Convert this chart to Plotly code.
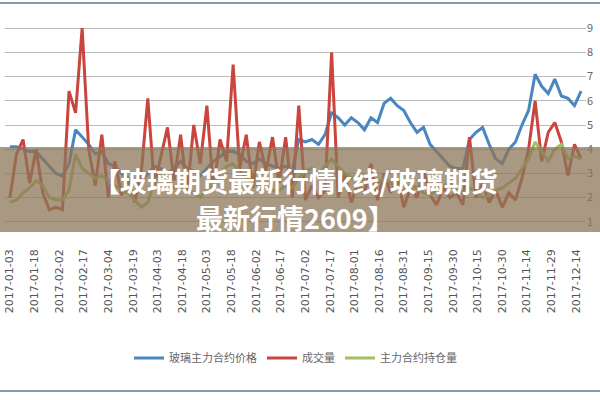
import plotly.graph_objects as go
import pandas as pd

dates = pd.date_range("2017-01-03", periods=88, freq="4D")
price = [4.1,4.1,4.0,3.9,3.9,3.6,3.3,3.0,2.9,3.4,4.8,4.5,4.2,3.8,3.9,3.4,3.3,3.0,2.8,2.6,2.7,3.0,3.3,3.2,3.0,3.2,3.5,3.2,3.1,2.9,3.2,3.5,3.7,3.9,3.9,3.8,3.5,3.4,3.6,3.4,3.3,3.2,3.3,3.1,4.4,4.3,4.4,4.2,4.6,5.5,5.3,5.0,5.3,5.1,4.8,5.3,5.1,5.9,6.1,5.8,5.6,5.1,4.7,4.9,4.2,3.9,3.6,3.3,3.2,3.2,4.4,4.7,4.9,4.2,3.6,3.4,4.0,4.3,5.0,5.6,7.1,6.6,6.3,6.9,6.2,6.1,5.8,6.4]
volume = [2.0,3.8,4.4,2.6,4.0,2.2,1.5,1.6,1.5,6.4,5.5,9.0,4.0,2.5,4.6,2.0,3.5,2.1,2.8,1.8,3.0,6.1,2.5,3.7,4.9,2.7,4.6,2.2,5.0,3.4,5.8,2.3,4.4,3.5,7.5,3.2,4.6,2.4,4.3,3.1,4.5,2.6,4.5,2.0,5.8,1.9,2.5,2.0,2.3,8.0,2.0,3.0,1.8,2.6,2.2,3.4,1.9,3.0,2.2,2.8,1.6,2.4,2.0,3.1,2.1,1.7,2.4,2.0,2.2,1.7,4.5,2.0,2.6,1.8,2.3,1.6,2.2,1.9,2.8,4.0,6.0,3.5,4.7,5.1,4.3,2.9,4.2,3.6]
oi = [1.8,1.9,2.2,2.4,2.7,2.5,2.0,1.9,1.9,2.3,3.8,3.2,3.0,2.8,2.9,2.7,2.5,2.3,2.2,1.9,1.6,1.8,2.7,2.9,2.6,2.4,2.5,2.3,2.2,2.0,2.3,2.6,3.0,3.3,3.4,3.1,2.8,2.6,2.5,2.4,2.3,2.3,2.5,2.4,2.8,3.1,3.2,3.0,3.3,3.6,3.3,3.0,2.8,2.9,2.7,2.5,2.6,2.8,2.6,2.4,2.3,2.5,2.4,2.2,2.1,2.3,2.5,2.6,2.4,2.2,2.4,2.2,2.0,2.1,2.3,2.4,2.6,2.8,3.2,3.6,4.3,3.9,3.5,4.0,4.2,3.6,3.7,3.6]
tick_dates = pd.date_range("2017-01-03", periods=24, freq="15D")
tick_text = [d.strftime("%Y-%m-%d") for d in tick_dates]
y_ticks = [1,2,3,4,5,6,7,8,9]

def py(ypx):
    return (246 - ypx) / 242

fig = go.Figure()
fig.add_trace(go.Scatter(x=dates, y=price, name="玻璃主力合约价格", mode="lines", line=dict(color="#4a86c0", width=3)))
fig.add_trace(go.Scatter(x=dates, y=volume, name="成交量", mode="lines", line=dict(color="#c9453e", width=3)))
fig.add_trace(go.Scatter(x=dates, y=oi, name="主力合约持仓量", mode="lines", line=dict(color="#a5be63", width=3)))

fig.update_layout(
    width=600, height=400, paper_bgcolor="white", plot_bgcolor="white",
    margin=dict(l=5, r=14, t=4, b=154, autoexpand=False),
    font=dict(family="Noto Sans CJK SC", color="#555"),
    showlegend=True,
    legend=dict(orientation="h", x=0.5, xanchor="center", y=py(358), yanchor="middle",
                font=dict(size=11, color="#666")),
    xaxis=dict(range=["2016-12-31", "2017-12-20"], tickvals=list(tick_dates), ticktext=tick_text,
               tickangle=-90, tickfont=dict(size=11, color="#555", family="DejaVu Sans"),
               showgrid=False, ticks="", showline=False, automargin=False),
    yaxis=dict(range=[0, 10], side="right", tickvals=y_ticks, showgrid=True, gridcolor="#bbb",
               gridwidth=1, tickfont=dict(size=11, color="#666"), zeroline=False, automargin=False),
    shapes=[
        dict(type="rect", xref="paper", yref="paper", x0=-0.01, x1=1.03, y0=py(232), y1=py(147),
             fillcolor="rgba(140,118,88,0.75)", line=dict(width=0), layer="above"),
        dict(type="line", xref="paper", yref="paper", x0=-0.01, x1=1.03, y0=py(3), y1=py(3),
             line=dict(color="#8a9aa5", width=2)),
        dict(type="line", xref="paper", yref="paper", x0=-0.01, x1=1.03, y0=py(391), y1=py(391),
             line=dict(color="#8a9aa5", width=2)),
    ],
    annotations=[
        dict(text="<b>【玻璃期货最新行情k线/玻璃期货</b>", xref="paper", yref="paper",
             x=0.5, y=py(180), yanchor="middle", showarrow=False,
             font=dict(size=27, color="white", family="Noto Sans CJK SC")),
        dict(text="<b>最新行情2609】</b>", xref="paper", yref="paper",
             x=0.5, y=py(217), yanchor="middle", showarrow=False,
             font=dict(size=27, color="white", family="Noto Sans CJK SC")),
    ],
)
fig.write_html("out.html", post_script="document.body.style.margin='0';", config={"displayModeBar": False})
